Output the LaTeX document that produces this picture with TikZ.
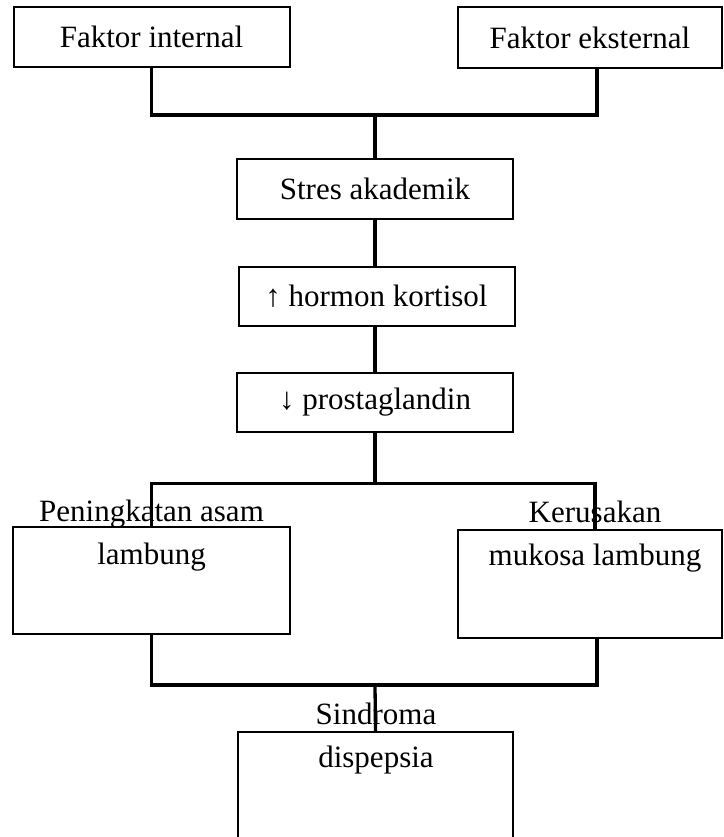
\documentclass[tikz,border=0pt]{standalone}
\usepackage{fontspec}
\setmainfont{Liberation Serif}
\begin{document}
\begin{tikzpicture}[x=1pt, y=-1pt, font=\fontsize{31}{43}\selectfont,
    box/.style={draw, line width=2pt, inner sep=0pt, minimum width=276pt, minimum height=59pt},
    tallbox/.style={draw, line width=2pt, inner sep=0pt, minimum width=277pt, minimum height=107pt},
    link/.style={line width=3.3pt}]
        % Page frame
        \useasboundingbox (0,0) rectangle (723,837);
        \clip (0,0) rectangle (723,837);

        % Factors
        \node[box, minimum height=60pt] (int) at (151.5,37) {Faktor internal};
        \node[box, minimum width=264pt, minimum height=61pt] (ext) at (590,37.5) {Faktor eksternal};

        % Main chain
        \node[box] (stres) at (375,189) {Stres akademik};
        \node[box] (kort) at (376.5,296.5) {↑ hormon kortisol};
        \node[box] (prost) at (375,402) {↓ prostaglandin};

        % Effects on the stomach
        \node[tallbox] (pen) at (151.5,580.5) {};
        \node[align=center] (pentext) at (151.5,535.5) {Peningkatan asam\\lambung};
        \node[tallbox, minimum width=264pt, minimum height=108pt] (ker) at (590,584) {};
        \node[align=center] (kertext) at (595,536.5) {Kerusakan\\mukosa lambung};

        % Outcome
        \node[tallbox, minimum width=275pt, minimum height=116pt] (sin) at (375.5,790) {};
        \node[align=center] (sintext) at (376,739) {Sindroma\\dispepsia};

        % Connectors
        \draw[link] (int.south) -- ++(0,47) coordinate (jT) -| ([xshift=7pt]ext.south);
        \draw[link] (stres.north) -- (stres.north |- jT);
        \draw[link] (stres.south) -- (kort.north -| stres.south);
        \draw[link] (kort.south -| prost.north) -- (prost.north);
        \draw[link] (prost.south) -- ++(0,51) coordinate (jM);
        \draw[link] (pen.north) |- (jM) -| ([xshift=5pt]ker.north);
        \coordinate (jB) at (375,685);
        \draw[link] (pen.south) |- (jB) -| ([xshift=7pt]ker.south);
        \draw[link] (jB) -- (sin.north);

      \end{tikzpicture}
\end{document}
